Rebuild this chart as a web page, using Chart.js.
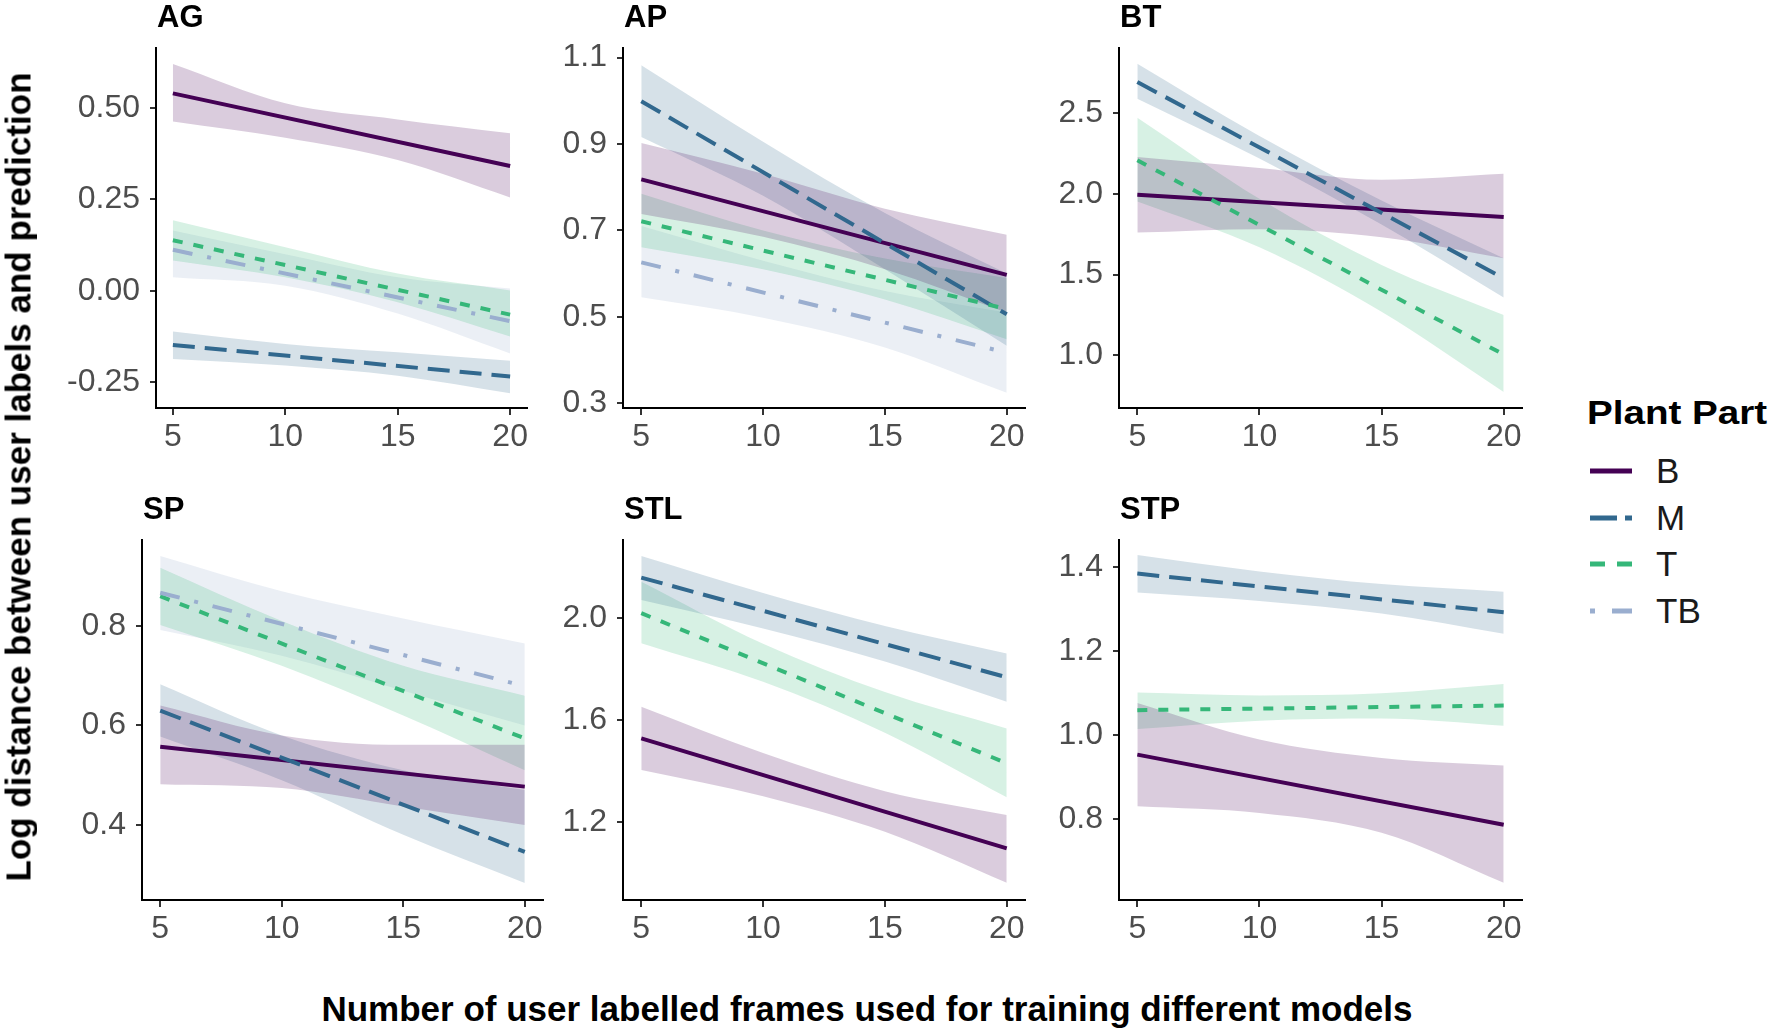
<!DOCTYPE html>
<html>
<head>
<meta charset="utf-8">
<title>Log distance by plant part</title>
<script src="https://cdn.jsdelivr.net/npm/chart.js@4.4.1/dist/chart.umd.min.js"></script>
<style>
  html, body { margin: 0; padding: 0; background: #fff; }
  #fig { position: relative; width: 1774px; height: 1034px; overflow: hidden;
         font-family: 'Liberation Sans', Arial, sans-serif; }
  #fig canvas { position: absolute; }
  .txt { position: absolute; white-space: nowrap; line-height: 1; z-index: 2; }
  .ptitle { font-weight: bold; font-size: 31px; color: #000; }
  .axtitle { font-weight: bold; font-size: 35px; color: #000; }
  .leg { font-size: 35px; color: #1a1a1a; }
</style>
</head>
<body>
<div id="fig"></div>
<script>
// ─── Data ───

const xBand = [5, 10, 15, 20];   // ribbon edges are given at these x
const xLine = [5, 20];           // fitted lines are straight, ends only
const xTicks = [5, 10, 15, 20];
const parts = ['B', 'M', 'T', 'TB'];

// AG
const agTicks = [-0.25, 0, 0.25, 0.5];
const agRange = [-0.32, 0.663];
const agB = [0.539, 0.341], agBlo = [0.462, 0.418, 0.357, 0.255], agBhi = [0.619, 0.512, 0.468, 0.430];
const agM = [-0.148, -0.234], agMlo = [-0.186, -0.204, -0.232, -0.280], agMhi = [-0.111, -0.145, -0.168, -0.191];
const agT = [0.138, -0.065], agTlo = [0.083, 0.037, -0.031, -0.125], agThi = [0.193, 0.119, 0.047, 0.001];
const agTB = [0.112, -0.083], agTBlo = [0.037, 0.014, -0.062, -0.171], agTBhi = [0.165, 0.100, 0.037, 0.006];

// AP
const apTicks = [0.3, 0.5, 0.7, 0.9, 1.1];
const apRange = [0.289, 1.122];
const apB = [0.818, 0.597], apBlo = [0.738, 0.685, 0.61, 0.51], apBhi = [0.902, 0.831, 0.75, 0.69];
const apM = [0.999, 0.506], apMlo = [0.916, 0.78, 0.61, 0.433], apMhi = [1.082, 0.905, 0.74, 0.60];
const apT = [0.721, 0.518], apTlo = [0.661, 0.61, 0.54, 0.448], apThi = [0.785, 0.70, 0.635, 0.59];
const apTB = [0.626, 0.417], apTBlo = [0.545, 0.498, 0.429, 0.324], apTBhi = [0.71, 0.63, 0.56, 0.51];

// BT
const btTicks = [1.0, 1.5, 2.0, 2.5];
const btRange = [0.672, 2.906];
const btB = [1.996, 1.857], btBlo = [1.761, 1.782, 1.732, 1.602], btBhi = [2.230, 2.162, 2.089, 2.126];
const btM = [2.695, 1.477], btMlo = [2.591, 2.22, 1.81, 1.357], btMhi = [2.809, 2.36, 1.96, 1.602];
const btT = [2.209, 1.004], btTlo = [1.954, 1.67, 1.27, 0.772], btThi = [2.473, 1.97, 1.56, 1.249];

// SP
const spTicks = [0.4, 0.6, 0.8];
const spRange = [0.249, 0.973];
const spB = [0.557, 0.477], spBlo = [0.482, 0.474, 0.437, 0.40], spBhi = [0.64, 0.58, 0.561, 0.561];
const spM = [0.630, 0.346], spMlo = [0.578, 0.49, 0.38, 0.283], spMhi = [0.683, 0.58, 0.51, 0.47];
const spT = [0.860, 0.574], spTlo = [0.802, 0.72, 0.62, 0.51], spThi = [0.917, 0.81, 0.72, 0.66];
const spTB = [0.867, 0.679], spTBlo = [0.792, 0.74, 0.67, 0.60], spTBhi = [0.941, 0.87, 0.815, 0.765];

// STL
const stlTicks = [1.2, 1.6, 2.0];
const stlRange = [0.892, 2.308];
const stlB = [1.528, 1.095], stlBlo = [1.403, 1.30, 1.16, 0.960], stlBhi = [1.652, 1.47, 1.32, 1.226];
const stlM = [2.160, 1.768], stlMlo = [2.072, 1.96, 1.83, 1.672], stlMhi = [2.245, 2.10, 1.97, 1.862];
const stlT = [2.020, 1.430], stlTlo = [1.902, 1.75, 1.55, 1.296], stlThi = [2.144, 1.90, 1.71, 1.567];

// STP
const stpTicks = [0.8, 1.0, 1.2, 1.4];
const stpRange = [0.608, 1.465];
const stpB = [0.954, 0.787], stpBlo = [0.831, 0.815, 0.768, 0.649], stpBhi = [1.077, 0.990, 0.946, 0.928];
const stpM = [1.385, 1.293], stpMlo = [1.340, 1.32, 1.29, 1.242], stpMhi = [1.429, 1.39, 1.36, 1.342];
const stpT = [1.060, 1.071], stpTlo = [1.015, 1.035, 1.04, 1.023], stpThi = [1.102, 1.095, 1.10, 1.122];

// ─── Look ───

const partStyle = {
    B:  { color: '#440154', fill: 'rgba(68,1,84,0.2)',    dash: [] },
    M:  { color: '#31688E', fill: 'rgba(49,104,142,0.2)', dash: [22, 10] },
    T:  { color: '#35B779', fill: 'rgba(53,183,121,0.2)', dash: [10, 11] },
    TB: { color: '#9AAECF', fill: 'rgba(154,174,207,0.2)', dash: [20, 15, 4, 15] }
};

// plot-area boxes in page pixels: left, top, right, bottom
const boxes = {
    AG:  [156, 48, 527, 408],
    AP:  [623, 48, 1025, 408],
    BT:  [1119, 48, 1522, 408],
    SP:  [142, 540, 543, 900],
    STL: [623, 540, 1025, 900],
    STP: [1119, 540, 1522, 900]
};

const panels = [
    { title: 'AG', ticks: agTicks, range: agRange, dec: 2,
      series: { B: [agB, agBlo, agBhi], M: [agM, agMlo, agMhi], T: [agT, agTlo, agThi], TB: [agTB, agTBlo, agTBhi] } },
    { title: 'AP', ticks: apTicks, range: apRange, dec: 1,
      series: { B: [apB, apBlo, apBhi], M: [apM, apMlo, apMhi], T: [apT, apTlo, apThi], TB: [apTB, apTBlo, apTBhi] } },
    { title: 'BT', ticks: btTicks, range: btRange, dec: 1,
      series: { B: [btB, btBlo, btBhi], M: [btM, btMlo, btMhi], T: [btT, btTlo, btThi] } },
    { title: 'SP', ticks: spTicks, range: spRange, dec: 1,
      series: { B: [spB, spBlo, spBhi], M: [spM, spMlo, spMhi], T: [spT, spTlo, spThi], TB: [spTB, spTBlo, spTBhi] } },
    { title: 'STL', ticks: stlTicks, range: stlRange, dec: 1,
      series: { B: [stlB, stlBlo, stlBhi], M: [stlM, stlMlo, stlMhi], T: [stlT, stlTlo, stlThi] } },
    { title: 'STP', ticks: stpTicks, range: stpRange, dec: 1,
      series: { B: [stpB, stpBlo, stpBhi], M: [stpM, stpMlo, stpMhi], T: [stpT, stpTlo, stpThi] } }
];

const Y_AXIS_W = 110, X_AXIS_H = 60, PAD = 30;
const LINE_W = 4;
const FONT = "'Liberation Sans', Arial, sans-serif";
const fig = document.getElementById('fig');

function addText(cls, text, left, top, extra) {
    const d = document.createElement('div');
    d.className = 'txt ' + cls;
    d.textContent = text;
    d.style.left = left + 'px';
    d.style.top = top + 'px';
    if (extra) Object.assign(d.style, extra);
    fig.appendChild(d);
    return d;
}

function pts(xs, ys) {
    return xs.map((x, i) => ({ x, y: ys[i] }));
}

function buildDatasets(series) {
    const present = parts.filter(p => series[p]);
    const lines = [];
    const bands = [];
    // lines first in index order so they sit above the ribbons; TB drawn on top
    present.slice().reverse().forEach(p => {
        const st = partStyle[p];
        lines.push({
            data: pts(xLine, series[p][0]),
            borderColor: st.color,
            borderWidth: LINE_W,
            borderDash: st.dash,
            borderCapStyle: 'butt',
            pointRadius: 0,
            fill: false
        });
    });
    present.forEach(p => {
        const st = partStyle[p];
        bands.push({
            data: pts(xBand, series[p][2]),
            borderColor: 'transparent',
            borderWidth: 0,
            pointRadius: 0,
            cubicInterpolationMode: 'monotone',
            fill: false
        });
        bands.push({
            data: pts(xBand, series[p][1]),
            borderColor: 'transparent',
            borderWidth: 0,
            pointRadius: 0,
            cubicInterpolationMode: 'monotone',
            backgroundColor: st.fill,
            fill: '-1'
        });
    });
    return lines.concat(bands);
}

panels.forEach(panel => {
    const [l, t, r, b] = boxes[panel.title];
    const canvas = document.createElement('canvas');
    const cw = Y_AXIS_W + (r - l) + PAD;
    const ch = PAD + (b - t) + X_AXIS_H;
    canvas.width = cw;
    canvas.height = ch;
    canvas.style.left = (l - Y_AXIS_W) + 'px';
    canvas.style.top = (t - PAD) + 'px';
    canvas.style.width = cw + 'px';
    canvas.style.height = ch + 'px';
    fig.appendChild(canvas);

    new Chart(canvas, {
        type: 'line',
        data: { datasets: buildDatasets(panel.series) },
        options: {
            responsive: false,
            animation: false,
            devicePixelRatio: 1,
            layout: { padding: { top: PAD, right: PAD, left: 0, bottom: 0 } },
            plugins: {
                legend: { display: false },
                tooltip: { enabled: false },
                filler: { drawTime: 'beforeDatasetsDraw' }
            },
            scales: {
                x: {
                    type: 'linear',
                    min: 4.25, max: 20.75,
                    afterBuildTicks: s => { s.ticks = xTicks.map(v => ({ value: v })); },
                    afterFit: s => { s.height = X_AXIS_H; },
                    grid: { drawOnChartArea: false, drawTicks: true, tickLength: 7, color: '#333333', lineWidth: 2 },
                    border: { display: true, color: '#000000', width: 2 },
                    ticks: { color: '#4D4D4D', padding: 3, maxRotation: 0, font: { family: FONT, size: 32 },
                             callback: v => String(v) }
                },
                y: {
                    type: 'linear',
                    min: panel.range[0], max: panel.range[1],
                    afterBuildTicks: s => { s.ticks = panel.ticks.map(v => ({ value: v })); },
                    afterFit: s => { s.width = Y_AXIS_W; },
                    grid: { drawOnChartArea: false, drawTicks: true, tickLength: 6, color: '#333333', lineWidth: 2 },
                    border: { display: true, color: '#000000', width: 2 },
                    ticks: { color: '#4D4D4D', padding: 10, font: { family: FONT, size: 32 },
                             callback: v => Number(v).toFixed(panel.dec) }
                }
            }
        }
    });

    // panel title, left-aligned on the plot area
    addText('ptitle', panel.title, l + 1, t - 47);
});

// axis titles
addText('axtitle', 'Log distance between user labels and prediction', 18, 477,
        { transform: 'translate(-50%, -50%) rotate(-90deg)' });
addText('axtitle', 'Number of user labelled frames used for training different models', 867, 991,
        { transform: 'translateX(-50%)' });

// legend
addText('axtitle', 'Plant Part', 1587, 396,
        { fontSize: '33px', transform: 'scaleX(1.17)', transformOrigin: 'left top' });
const legendRows = [
    { part: 'B', y: 471, key: '' },
    { part: 'M', y: 518, key: '27 8' },
    { part: 'T', y: 564, key: '15 12' },
    { part: 'TB', y: 611, key: '5 17 20 40' }
];
const svgNS = 'http://www.w3.org/2000/svg';
const svg = document.createElementNS(svgNS, 'svg');
svg.setAttribute('width', 50);
svg.setAttribute('height', 200);
svg.style.position = 'absolute';
svg.style.left = '1588px';
svg.style.top = '440px';
fig.appendChild(svg);
legendRows.forEach(row => {
    const ln = document.createElementNS(svgNS, 'line');
    ln.setAttribute('x1', 2);
    ln.setAttribute('x2', 44);
    ln.setAttribute('y1', row.y - 440);
    ln.setAttribute('y2', row.y - 440);
    ln.setAttribute('stroke', partStyle[row.part].color);
    ln.setAttribute('stroke-width', 5);
    if (row.key) ln.setAttribute('stroke-dasharray', row.key);
    svg.appendChild(ln);
    addText('leg', row.part, 1656, row.y - 18);
});
</script>
</body>
</html>
